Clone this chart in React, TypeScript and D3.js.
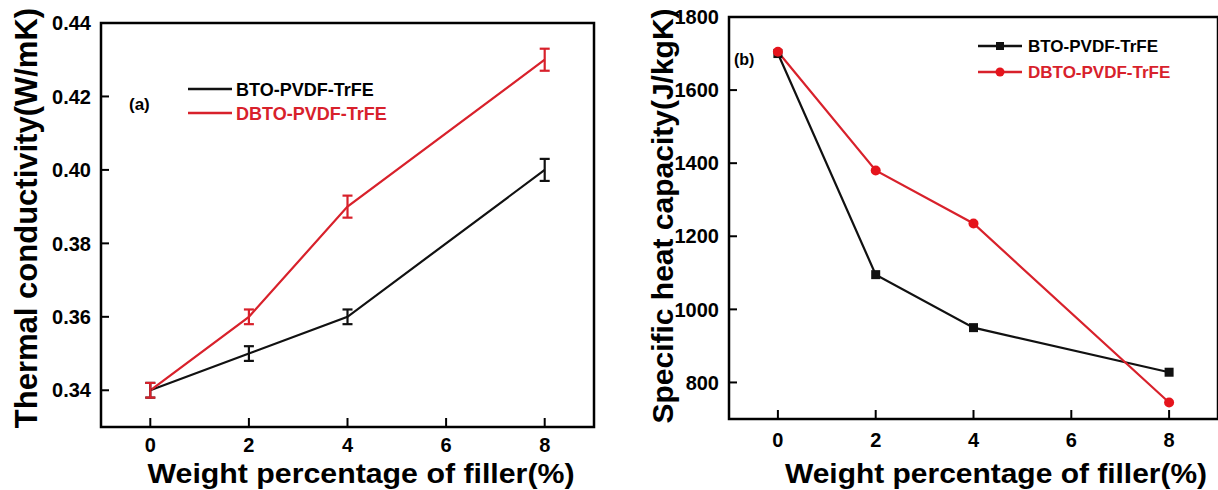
import React from "react";
import * as d3 from "d3";

const fillerPct = [0, 2, 4, 8];
const xTicks = [0, 2, 4, 6, 8];

// Panel (a) thermal conductivity
const tcBTO = [0.34, 0.35, 0.36, 0.4];
const tcBTOErr = [0.002, 0.002, 0.002, 0.003];
const tcDBTO = [0.34, 0.36, 0.39, 0.43];
const tcDBTOErr = [0.002, 0.002, 0.003, 0.003];
const tcTicks = [0.34, 0.36, 0.38, 0.4, 0.42, 0.44];

// Panel (b) specific heat capacity
const shBTO = [1700, 1095, 950, 828];
const shDBTO = [1705, 1380, 1235, 745];
const shTicks = [800, 1000, 1200, 1400, 1600, 1800];

const seriesNames = ["BTO-PVDF-TrFE", "DBTO-PVDF-TrFE"];

const BLACK = "#111";
const RED = "#d8212b";
const RED_MK = "#e5141c";
const FONT = "'Liberation Sans', Arial, Helvetica, sans-serif";

export default function App() {
  // panel a
  const xa = d3.scaleLinear().domain([-1, 9]).range([101, 594]);
  const ya = d3.scaleLinear().domain([0.33, 0.44]).range([427, 23]);
  // panel b
  const xb = d3.scaleLinear().domain([-1, 9]).range([729, 1218]);
  const yb = d3.scaleLinear().domain([700, 1800]).range([419, 17]);

  const lineA = (vals: number[]) =>
    d3.line<number>().x((_, i) => xa(fillerPct[i])).y((v) => ya(v))(vals) || "";
  const lineB = (vals: number[]) =>
    d3.line<number>().x((_, i) => xb(fillerPct[i])).y((v) => yb(v))(vals) || "";

  const errBars = (vals: number[], errs: number[], color: string) =>
    vals.map((v, i) => {
      const x = xa(fillerPct[i]);
      const y1 = ya(v - errs[i]);
      const y2 = ya(v + errs[i]);
      return (
        <g key={i} stroke={color} strokeWidth={2.2}>
          <line x1={x} x2={x} y1={y1} y2={y2} />
          <line x1={x - 5} x2={x + 5} y1={y1} y2={y1} />
          <line x1={x - 5} x2={x + 5} y1={y2} y2={y2} />
        </g>
      );
    });

  const frame = (x0: number, x1: number, y0: number, y1: number) => (
    <rect x={x0} y={y0} width={x1 - x0} height={y1 - y0} fill="none" stroke="#000" strokeWidth={2.5} />
  );

  return (
    <svg
      width={1218}
      height={490}
      style={{ position: "absolute", left: 0, top: 0, background: "#fff" }}
      fontFamily={FONT}
      fontWeight="bold"
    >
      <rect x={0} y={0} width={1218} height={490} fill="#fff" />

      {/* ===== Panel (a) ===== */}
      {frame(101, 594, 23, 427)}
      {tcTicks.map((t) => (
        <g key={t}>
          <line x1={101} x2={109} y1={ya(t)} y2={ya(t)} stroke="#000" strokeWidth={2} />
          <text x={91} y={ya(t)} dy="0.36em" textAnchor="end" fontSize={20}>
            {t.toFixed(2)}
          </text>
        </g>
      ))}
      {xTicks.map((t) => (
        <g key={t}>
          <line x1={xa(t)} x2={xa(t)} y1={427} y2={418} stroke="#000" strokeWidth={2} />
          <text x={xa(t)} y={452} textAnchor="middle" fontSize={20}>
            {t}
          </text>
        </g>
      ))}
      <path d={lineA(tcBTO)} fill="none" stroke={BLACK} strokeWidth={2.2} />
      <path d={lineA(tcDBTO)} fill="none" stroke={RED} strokeWidth={2.2} />
      {errBars(tcBTO, tcBTOErr, BLACK)}
      {errBars(tcDBTO, tcDBTOErr, RED)}

      <text x={129} y={110} fontSize={17}>(a)</text>
      <line x1={188} x2={232} y1={89} y2={89} stroke={BLACK} strokeWidth={2.6} />
      <text x={236} y={96} fontSize={18}>{seriesNames[0]}</text>
      <line x1={188} x2={232} y1={113} y2={113} stroke={RED} strokeWidth={2.6} />
      <text x={236} y={120} fontSize={18} fill={RED}>{seriesNames[1]}</text>

      <text
        transform={`translate(37,218) rotate(-90)`}
        textAnchor="middle"
        fontSize={31}
      >
        Thermal conductivity(W/mK)
      </text>
      <text
        x={361}
        y={483}
        textAnchor="middle"
        fontSize={28}
        textLength={427}
        lengthAdjust="spacingAndGlyphs"
      >
        Weight percentage of filler(%)
      </text>

      {/* ===== Panel (b) ===== */}
      {frame(729, 1218, 17, 419)}
      {shTicks.map((t) => (
        <g key={t}>
          <line x1={729} x2={737} y1={yb(t)} y2={yb(t)} stroke="#000" strokeWidth={2} />
          <text x={719} y={yb(t)} dy="0.36em" textAnchor="end" fontSize={20}>
            {t}
          </text>
        </g>
      ))}
      {xTicks.map((t) => (
        <g key={t}>
          <line x1={xb(t)} x2={xb(t)} y1={419} y2={410} stroke="#000" strokeWidth={2} />
          <text x={xb(t)} y={447} textAnchor="middle" fontSize={20}>
            {t}
          </text>
        </g>
      ))}
      <path d={lineB(shBTO)} fill="none" stroke={BLACK} strokeWidth={2.2} />
      <path d={lineB(shDBTO)} fill="none" stroke={RED} strokeWidth={2.2} />
      {shBTO.map((v, i) => (
        <rect key={i} x={xb(fillerPct[i]) - 4.5} y={yb(v) - 4.5} width={9} height={9} fill={BLACK} />
      ))}
      {shDBTO.map((v, i) => (
        <circle key={i} cx={xb(fillerPct[i])} cy={yb(v)} r={5} fill={RED_MK} />
      ))}

      <text x={734} y={65} fontSize={16}>(b)</text>
      <line x1={978} x2={1022} y1={46} y2={46} stroke={BLACK} strokeWidth={2.4} />
      <rect x={996} y={42} width={8} height={8} fill={BLACK} />
      <text x={1028} y={52} fontSize={17}>{seriesNames[0]}</text>
      <line x1={978} x2={1022} y1={72} y2={72} stroke={RED} strokeWidth={2.4} />
      <circle cx={1000} cy={72} r={4.5} fill={RED_MK} />
      <text x={1028} y={78} fontSize={17} fill={RED}>{seriesNames[1]}</text>

      <text
        transform={`translate(673,216) rotate(-90)`}
        textAnchor="middle"
        fontSize={30}
      >
        Specific heat capacity(J/kgK)
      </text>
      <text
        x={996}
        y={483}
        textAnchor="middle"
        fontSize={28}
        textLength={422}
        lengthAdjust="spacingAndGlyphs"
      >
        Weight percentage of filler(%)
      </text>
    </svg>
  );
}
